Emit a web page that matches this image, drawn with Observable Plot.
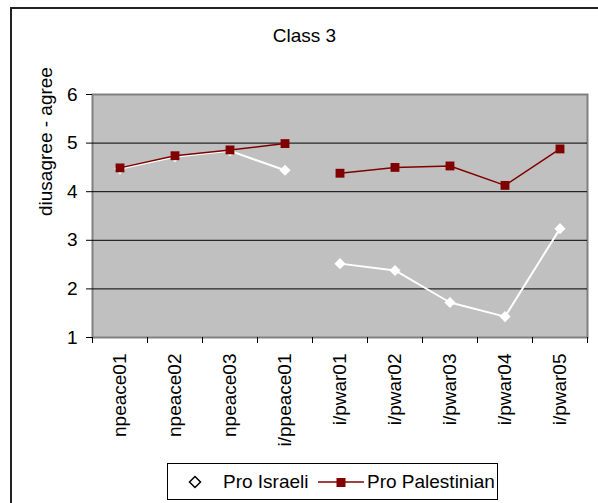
<!DOCTYPE html>
<html>
<head>
<meta charset="utf-8">
<script src="https://cdn.jsdelivr.net/npm/d3@7"></script>
<script src="https://cdn.jsdelivr.net/npm/@observablehq/plot@0.6"></script>
<style>
  html, body { margin: 0; padding: 0; background: #fff; overflow: hidden; }
  body { width: 598px; height: 503px; position: relative; font-family: "Liberation Sans", Arial, sans-serif; }
  #border { position: absolute; left: 10px; top: 7px; width: 620px; height: 520px; border: 2px solid #222; box-sizing: border-box; }
  #title { position: absolute; left: 11px; width: 587px; top: 26px; text-align: center; font-size: 19px; line-height: 19px; color: #000; }
  #chart { position: absolute; left: 0; top: 0; }
  #legend { position: absolute; left: 167px; top: 463px; width: 331px; height: 37px; border: 1px solid #000; box-sizing: border-box; background: #fff; font-size: 19px; }
  #legend .item { position: absolute; top: 0; height: 35px; line-height: 35px; white-space: nowrap; }
  #legend svg { position: absolute; }
</style>
</head>
<body>
<div id="border"></div>
<div id="title">Class 3</div>
<div id="chart"></div>
<div id="legend"></div>
<script>
// ---- data ----
const categories = ["npeace01", "npeace02", "npeace03", "i/ppeace01", "i/pwar01", "i/pwar02", "i/pwar03", "i/pwar04", "i/pwar05"];
const segments = ["peace", "peace", "peace", "peace", "war", "war", "war", "war", "war"];
const proIsraeli = [4.47, 4.72, 4.84, 4.44, 2.52, 2.38, 1.72, 1.43, 3.24];
const proPalestinian = [4.49, 4.74, 4.86, 4.99, 4.38, 4.50, 4.53, 4.13, 4.88];
const yTicks = [1, 2, 3, 4, 5, 6];
const gridValues = [2, 3, 4, 5];
const seriesNames = ["Pro Israeli", "Pro Palestinian"];
const yLabel = "diusagree - agree";

const rowsIsr = categories.map((c, i) => ({cat: c, i, seg: segments[i], value: proIsraeli[i]}));
const rowsPal = categories.map((c, i) => ({cat: c, i, seg: segments[i], value: proPalestinian[i]}));
const xOf = d => d.i + 0.5;

const red = "#800000";

const chart = Plot.plot({
  width: 598,
  height: 460,
  marginLeft: 92,
  marginRight: 11,
  marginTop: 94,
  marginBottom: 123,
  style: {fontFamily: "'Liberation Sans', Arial, sans-serif", fontSize: "19px", color: "#000", background: "transparent", overflow: "visible"},
  x: {type: "linear", domain: [0, categories.length]},
  y: {domain: [1, 6]},
  marks: [
    Plot.frame({fill: "#c0c0c0", stroke: "#808080", strokeWidth: 2}),
    Plot.ruleY(gridValues, {stroke: "#000", strokeWidth: 1}),
    Plot.axisY({ticks: yTicks, tickSize: 6, tickPadding: 9, label: null, tickFormat: d => String(d), fontSize: 19}),
    Plot.axisX({ticks: d3.range(0, categories.length + 1), tickSize: 6, tickFormat: () => "", label: null}),
    Plot.axisX({ticks: categories.map((c, i) => i + 0.5), tickSize: 0, tickPadding: 16, tickRotate: -90,
      tickFormat: d => categories[Math.round(d - 0.5)], label: null, fontSize: 19}),
    Plot.line(rowsIsr, {x: xOf, y: "value", z: "seg", stroke: "#fff", strokeWidth: 2}),
    Plot.dot(rowsIsr, {x: xOf, y: "value", symbol: "diamond2", r: 5, fill: "#fff", stroke: "none"}),
    Plot.line(rowsPal, {x: xOf, y: "value", z: "seg", stroke: red, strokeWidth: 1.5}),
    Plot.dot(rowsPal, {x: xOf, y: "value", symbol: "square", r: 5, fill: red, stroke: "none"}),
    Plot.text([yLabel], {text: d => d, frameAnchor: "left", dx: -47, rotate: -90, fontSize: 19, fill: "#000"})
  ]
});
document.getElementById("chart").appendChild(chart);

// ---- legend ----
const legend = document.getElementById("legend");
legend.innerHTML = `
  <svg style="left:20px;top:11px" width="14" height="14" viewBox="-7 -7 14 14"><path d="M0,-5.5L5.5,0L0,5.5L-5.5,0Z" fill="#fff" stroke="#000" stroke-width="1.5"/></svg>
  <div class="item" style="left:55px">${seriesNames[0]}</div>
  <svg style="left:150px;top:12px" width="46" height="12"><line x1="0" y1="6" x2="46" y2="6" stroke="${red}" stroke-width="1.5"/><rect x="18.5" y="2" width="9" height="9" fill="${red}"/></svg>
  <div class="item" style="left:199px">${seriesNames[1]}</div>
`;
</script>
</body>
</html>
